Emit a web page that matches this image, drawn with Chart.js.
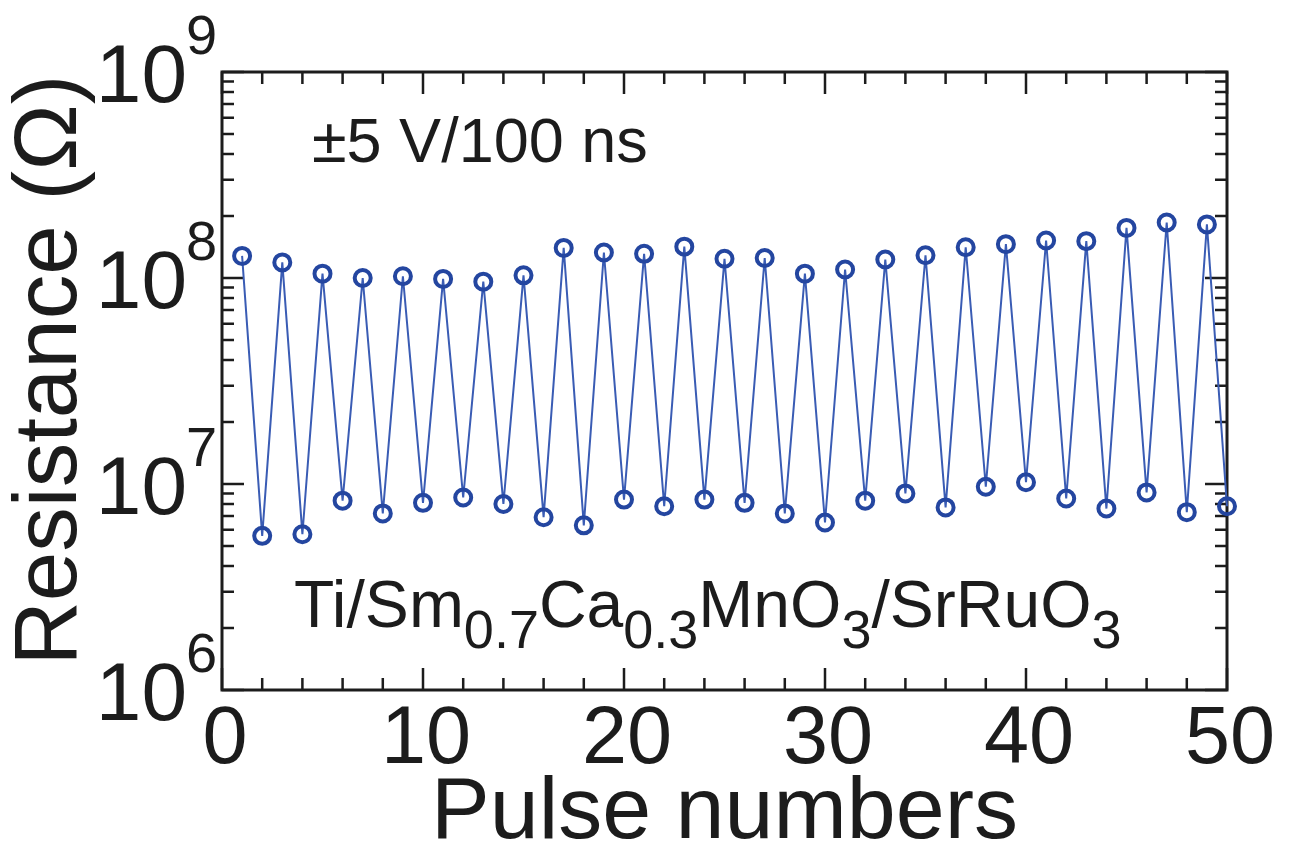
<!DOCTYPE html>
<html lang="en">
<head>
    <meta charset="UTF-8">
    <title>Resistance vs Pulse numbers</title>
    <style>
        html, body { margin: 0; padding: 0; background: #fff; }
        #chart_canvas { display: block; }
    </style>
</head>
<body>
<canvas id="chart_canvas" width="1292" height="846"></canvas>
<!--suppress JSUnresolvedLibraryURL -->
<script src="https://cdn.jsdelivr.net/npm/chart.js@4.2.0/dist/chart.umd.min.js"></script>
<script>
    // data
    const pulses = [1, 2, 3, 4, 5, 6, 7, 8, 9, 10,
        11, 12, 13, 14, 15, 16, 17, 18, 19, 20,
        21, 22, 23, 24, 25, 26, 27, 28, 29, 30,
        31, 32, 33, 34, 35, 36, 37, 38, 39, 40,
        41, 42, 43, 44, 45, 46, 47, 48, 49, 50];
    const resistance = [1.28e8, 5.6e6, 1.19e8, 5.7e6, 1.05e8, 8.3e6, 1.00e8, 7.2e6, 1.02e8, 8.1e6,
        9.9e7, 8.6e6, 9.6e7, 8.0e6, 1.03e8, 6.9e6, 1.40e8, 6.3e6, 1.33e8, 8.4e6,
        1.31e8, 7.8e6, 1.42e8, 8.4e6, 1.24e8, 8.1e6, 1.25e8, 7.2e6, 1.05e8, 6.5e6,
        1.10e8, 8.3e6, 1.23e8, 9.0e6, 1.29e8, 7.7e6, 1.41e8, 9.7e6, 1.46e8, 1.02e7,
        1.52e8, 8.5e6, 1.51e8, 7.6e6, 1.75e8, 9.1e6, 1.86e8, 7.3e6, 1.82e8, 7.8e6];
    const xTickValues = [0, 10, 20, 30, 40, 50];
    const yExponents = [6, 7, 8, 9];
    const xTitle = 'Pulse numbers';
    const yTitle = 'Resistance (\u03A9)';
    const pulseLabel = '\u00B15 V/100 ns';
    const deviceLabel = [['Ti/Sm', 0], ['0.7', 1], ['Ca', 0], ['0.3', 1], ['MnO', 0], ['3', 1], ['/SrRuO', 0], ['3', 1]];

    const FONT = '"Liberation Sans", Arial, Helvetica, sans-serif';
    const INK = '#1c1c1c';

    function drawRich(ctx, x, y, parts, size, subSize, subDrop) {
        ctx.textAlign = 'left';
        ctx.textBaseline = 'alphabetic';
        let cx = x;
        parts.forEach(function (p) {
            const s = p[1] ? subSize : size;
            ctx.font = s + 'px ' + FONT;
            ctx.fillText(p[0], cx, p[1] ? y + subDrop : y);
            cx += ctx.measureText(p[0]).width;
        });
    }

    const framePlugin = {
        id: 'frame',
        beforeDatasetsDraw(chart) {
            const ctx = chart.ctx;
            const xs = chart.scales.x;
            const ys = chart.scales.y;
            const a = chart.chartArea;
            ctx.save();
            ctx.strokeStyle = INK;
            ctx.lineWidth = 2.5;
            // minor / major ticks on x (bottom and top, pointing in)
            for (let v = 0; v <= 50; v += 2) {
                const px = xs.getPixelForValue(v);
                const len = (v % 10 === 0) ? 22 : 12;
                ctx.beginPath();
                ctx.moveTo(px, a.bottom); ctx.lineTo(px, a.bottom - len);
                ctx.moveTo(px, a.top); ctx.lineTo(px, a.top + len);
                ctx.stroke();
            }
            // log ticks on y (left and right)
            for (let e = 6; e <= 9; e++) {
                for (let m = 1; m <= 9; m++) {
                    if (e === 9 && m > 1) break;
                    const py = ys.getPixelForValue(m * Math.pow(10, e));
                    const len = (m === 1) ? 22 : 12;
                    ctx.beginPath();
                    ctx.moveTo(a.left, py); ctx.lineTo(a.left + len, py);
                    ctx.moveTo(a.right, py); ctx.lineTo(a.right - len, py);
                    ctx.stroke();
                }
            }
            ctx.lineWidth = 3;
            ctx.strokeRect(a.left, a.top, a.right - a.left, a.bottom - a.top);
            ctx.restore();
        },
        afterDraw(chart) {
            const ctx = chart.ctx;
            const xs = chart.scales.x;
            const ys = chart.scales.y;
            const a = chart.chartArea;
            ctx.save();
            ctx.fillStyle = INK;

            // x tick labels
            ctx.font = '81px ' + FONT;
            ctx.textAlign = 'center';
            ctx.textBaseline = 'alphabetic';
            xTickValues.forEach(function (v) {
                ctx.fillText(String(v), xs.getPixelForValue(v) + 3, a.bottom + 73);
            });

            // y tick labels 10^n
            yExponents.forEach(function (e) {
                const py = ys.getPixelForValue(Math.pow(10, e));
                ctx.font = '82px ' + FONT;
                ctx.textAlign = 'right';
                ctx.fillText('10', 187, py + 30);
                ctx.font = '56px ' + FONT;
                ctx.textAlign = 'left';
                ctx.fillText(String(e), 186, py - 18);
            });

            // axis titles
            ctx.font = '88px ' + FONT;
            ctx.textAlign = 'center';
            ctx.fillText(xTitle, (a.left + a.right) / 2, 838);

            ctx.save();
            ctx.translate(76, 370);
            ctx.rotate(-Math.PI / 2);
            ctx.font = '89px ' + FONT;
            ctx.fillText(yTitle, 0, 0);
            ctx.restore();

            // annotations
            ctx.font = '63px ' + FONT;
            ctx.textAlign = 'left';
            ctx.fillText(pulseLabel, 312, 162);
            drawRich(ctx, 294, 627, deviceLabel, 66, 54, 21);
            ctx.restore();
        }
    };

    const points = pulses.map(function (p, i) {
        return {x: p, y: resistance[i]};
    });

    const config = {
        type: 'scatter',
        data: {
            datasets: [{
                data: points,
                showLine: true,
                borderColor: '#3a5cb4',
                borderWidth: 2,
                pointRadius: 8,
                pointBorderWidth: 4,
                pointBorderColor: '#2446a0',
                pointBackgroundColor: 'rgba(0,0,0,0)',
                clip: false
            }]
        },
        options: {
            responsive: false,
            animation: false,
            layout: {
                padding: {left: 222, top: 72, right: 65, bottom: 156}
            },
            plugins: {
                legend: {display: false},
                tooltip: {enabled: false}
            },
            scales: {
                x: {
                    type: 'linear',
                    min: 0,
                    max: 50,
                    display: false
                },
                y: {
                    type: 'logarithmic',
                    min: 1e6,
                    max: 1e9,
                    display: false
                }
            }
        },
        plugins: [framePlugin]
    };

    const ctx = document.getElementById('chart_canvas').getContext('2d');
    const chart = new Chart(ctx, config);
</script>
</body>
</html>
